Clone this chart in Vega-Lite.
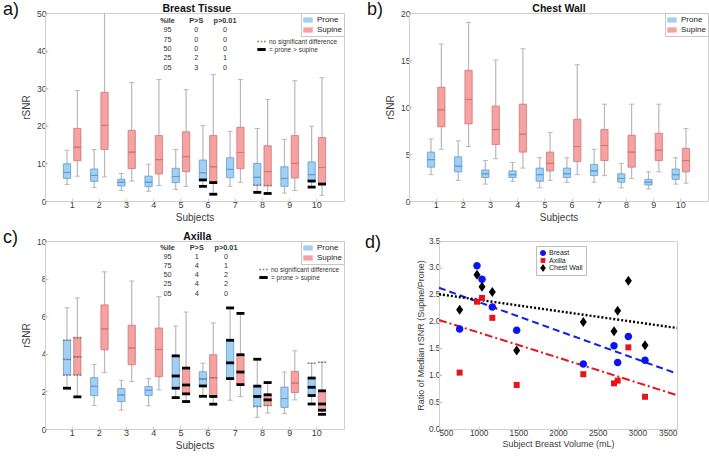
{
  "$schema": "https://vega.github.io/schema/vega-lite/v6.json",
  "background": "white",
  "padding": {"left": 2, "top": 0, "right": 0, "bottom": 0},
  "config": {
    "font": "Liberation Sans",
    "view": {"stroke": "#cfcfcf", "strokeWidth": 1},
    "axis": {
      "domainColor": "#cfcfcf", "tickColor": "#cfcfcf", "tickSize": -3,
      "labelColor": "#3c3c3c", "titleColor": "#3c3c3c",
      "labelFontSize": 8.5, "titleFontSize": 10, "titleFontWeight": "normal",
      "grid": false, "labelPadding": 2, "labelOverlap": false
    },
    "axisY": {"titlePadding": 5},
    "axisX": {"titlePadding": 3},
    "legend": {"labelFont": "Liberation Sans", "labelColor": "#222"},
    "title": {"font": "Liberation Sans", "fontSize": 18, "fontWeight": "normal", "color": "#111", "anchor": "start", "frame": "group"}
  },
  "datasets": {
    "breast": [
      {"s": 1, "pos": "Prone", "p05": 4.4, "p25": 6.0, "p50": 7.6, "p75": 9.9, "p95": 13.5},
      {"s": 1, "pos": "Supine", "p05": 6.6, "p25": 10.7, "p50": 14.3, "p75": 19.3, "p95": 29.4},
      {"s": 2, "pos": "Prone", "p05": 3.6, "p25": 5.2, "p50": 6.8, "p75": 8.5, "p95": 13.7},
      {"s": 2, "pos": "Supine", "p05": 6.4, "p25": 13.7, "p50": 20.1, "p75": 28.9, "p95": 52},
      {"s": 3, "pos": "Prone", "p05": 2.8, "p25": 4.0, "p50": 5.0, "p75": 5.8, "p95": 7.3},
      {"s": 3, "pos": "Supine", "p05": 5.3, "p25": 8.6, "p50": 13.0, "p75": 18.8, "p95": 31.5},
      {"s": 4, "pos": "Prone", "p05": 2.6, "p25": 3.8, "p50": 5.0, "p75": 6.6, "p95": 9.8},
      {"s": 4, "pos": "Supine", "p05": 4.1, "p25": 7.2, "p50": 11.0, "p75": 17.4, "p95": 32.3},
      {"s": 5, "pos": "Prone", "p05": 3.1, "p25": 4.9, "p50": 6.5, "p75": 8.7, "p95": 13.7},
      {"s": 5, "pos": "Supine", "p05": 3.9, "p25": 7.8, "p50": 11.8, "p75": 18.4, "p95": 29.6},
      {"s": 6, "pos": "Prone", "p05": 3.9, "p25": 5.6, "p50": 7.5, "p75": 10.9, "p95": 20.1},
      {"s": 6, "pos": "Supine", "p05": 1.8, "p25": 4.9, "p50": 9.1, "p75": 17.4, "p95": 33.6},
      {"s": 7, "pos": "Prone", "p05": 3.9, "p25": 6.2, "p50": 8.4, "p75": 11.5, "p95": 18.5},
      {"s": 7, "pos": "Supine", "p05": 5.0, "p25": 8.6, "p50": 12.9, "p75": 19.6, "p95": 32.3},
      {"s": 8, "pos": "Prone", "p05": 2.3, "p25": 4.2, "p50": 6.3, "p75": 10.0, "p95": 19.3},
      {"s": 8, "pos": "Supine", "p05": 2.0, "p25": 4.1, "p50": 7.8, "p75": 14.7, "p95": 27.0},
      {"s": 9, "pos": "Prone", "p05": 2.1, "p25": 3.9, "p50": 6.0, "p75": 9.1, "p95": 16.4},
      {"s": 9, "pos": "Supine", "p05": 2.8, "p25": 6.1, "p50": 10.0, "p75": 17.4, "p95": 32.0},
      {"s": 10, "pos": "Prone", "p05": 3.7, "p25": 5.3, "p50": 7.0, "p75": 10.4, "p95": 19.9},
      {"s": 10, "pos": "Supine", "p05": 1.5, "p25": 4.5, "p50": 8.9, "p75": 16.9, "p95": 32.8}
    ],
    "breastMarks": [
      {"s": 6, "pos": "Prone", "v": 5.6, "kind": "= prone > supine"},
      {"s": 6, "pos": "Prone", "v": 3.9, "kind": "= prone > supine"},
      {"s": 6, "pos": "Supine", "v": 4.9, "kind": "= prone > supine"},
      {"s": 6, "pos": "Supine", "v": 1.8, "kind": "= prone > supine"},
      {"s": 8, "pos": "Prone", "v": 2.3, "kind": "= prone > supine"},
      {"s": 8, "pos": "Supine", "v": 2.0, "kind": "= prone > supine"},
      {"s": 10, "pos": "Prone", "v": 5.3, "kind": "= prone > supine"},
      {"s": 10, "pos": "Prone", "v": 3.7, "kind": "= prone > supine"},
      {"s": 10, "pos": "Supine", "v": 4.5, "kind": "= prone > supine"},
      {"s": 8, "pos": "Prone", "v": 4.2, "kind": "no significant difference"},
      {"s": 8, "pos": "Supine", "v": 4.1, "kind": "no significant difference"}
    ],
    "breastTable": [
      {"pct": "%ile", "col": "%ile", "t": "%ile"}, {"pct": "%ile", "col": "P>S", "t": "P>S"}, {"pct": "%ile", "col": "p>0.01", "t": "p>0.01"},
      {"pct": "95", "col": "%ile", "t": "95"}, {"pct": "95", "col": "P>S", "t": "0"}, {"pct": "95", "col": "p>0.01", "t": "0"},
      {"pct": "75", "col": "%ile", "t": "75"}, {"pct": "75", "col": "P>S", "t": "0"}, {"pct": "75", "col": "p>0.01", "t": "0"},
      {"pct": "50", "col": "%ile", "t": "50"}, {"pct": "50", "col": "P>S", "t": "0"}, {"pct": "50", "col": "p>0.01", "t": "0"},
      {"pct": "25", "col": "%ile", "t": "25"}, {"pct": "25", "col": "P>S", "t": "2"}, {"pct": "25", "col": "p>0.01", "t": "1"},
      {"pct": "05", "col": "%ile", "t": "05"}, {"pct": "05", "col": "P>S", "t": "3"}, {"pct": "05", "col": "p>0.01", "t": "0"}
    ],
    "chest": [
      {"s": 1, "pos": "Prone", "p05": 2.8, "p25": 3.6, "p50": 4.4, "p75": 5.2, "p95": 6.6},
      {"s": 1, "pos": "Supine", "p05": 5.5, "p25": 7.9, "p50": 9.7, "p75": 12.1, "p95": 16.7},
      {"s": 2, "pos": "Prone", "p05": 2.2, "p25": 3.1, "p50": 3.7, "p75": 4.7, "p95": 6.4},
      {"s": 2, "pos": "Supine", "p05": 5.8, "p25": 8.2, "p50": 10.8, "p75": 13.9, "p95": 19.0},
      {"s": 3, "pos": "Prone", "p05": 1.8, "p25": 2.5, "p50": 2.9, "p75": 3.3, "p95": 4.3},
      {"s": 3, "pos": "Supine", "p05": 4.5, "p25": 6.0, "p50": 7.6, "p75": 10.1, "p95": 15.0},
      {"s": 4, "pos": "Prone", "p05": 2.1, "p25": 2.5, "p50": 2.8, "p75": 3.2, "p95": 4.1},
      {"s": 4, "pos": "Supine", "p05": 3.5, "p25": 5.2, "p50": 7.1, "p75": 10.3, "p95": 16.2},
      {"s": 5, "pos": "Prone", "p05": 1.4, "p25": 2.1, "p50": 2.8, "p75": 3.5, "p95": 4.6},
      {"s": 5, "pos": "Supine", "p05": 2.2, "p25": 3.2, "p50": 4.0, "p75": 5.2, "p95": 7.3},
      {"s": 6, "pos": "Prone", "p05": 2.0, "p25": 2.5, "p50": 2.9, "p75": 3.5, "p95": 4.6},
      {"s": 6, "pos": "Supine", "p05": 2.8, "p25": 4.2, "p50": 5.8, "p75": 8.7, "p95": 14.5},
      {"s": 7, "pos": "Prone", "p05": 2.0, "p25": 2.7, "p50": 3.2, "p75": 3.9, "p95": 5.5},
      {"s": 7, "pos": "Supine", "p05": 2.7, "p25": 4.3, "p50": 5.9, "p75": 7.6, "p95": 10.3},
      {"s": 8, "pos": "Prone", "p05": 1.4, "p25": 2.0, "p50": 2.4, "p75": 2.9, "p95": 4.0},
      {"s": 8, "pos": "Supine", "p05": 2.4, "p25": 3.6, "p50": 5.2, "p75": 7.0, "p95": 10.3},
      {"s": 9, "pos": "Prone", "p05": 1.3, "p25": 1.7, "p50": 2.0, "p75": 2.3, "p95": 3.1},
      {"s": 9, "pos": "Supine", "p05": 3.1, "p25": 4.3, "p50": 5.4, "p75": 7.2, "p95": 10.3},
      {"s": 10, "pos": "Prone", "p05": 1.8, "p25": 2.3, "p50": 2.8, "p75": 3.4, "p95": 4.6},
      {"s": 10, "pos": "Supine", "p05": 1.9, "p25": 3.1, "p50": 4.3, "p75": 5.6, "p95": 7.7}
    ],
    "axilla": [
      {"s": 1, "pos": "Prone", "p05": 2.17, "p25": 2.87, "p50": 3.7, "p75": 4.72, "p95": 6.45},
      {"s": 1, "pos": "Supine", "p05": 1.71, "p25": 2.87, "p50": 3.84, "p75": 4.86, "p95": 6.97},
      {"s": 2, "pos": "Prone", "p05": 1.25, "p25": 1.78, "p50": 2.27, "p75": 2.73, "p95": 3.43},
      {"s": 2, "pos": "Supine", "p05": 3.01, "p25": 4.21, "p50": 5.32, "p75": 6.6, "p95": 8.36},
      {"s": 3, "pos": "Prone", "p05": 1.0, "p25": 1.46, "p50": 1.81, "p75": 2.15, "p95": 2.59},
      {"s": 3, "pos": "Supine", "p05": 2.53, "p25": 3.42, "p50": 4.31, "p75": 5.52, "p95": 7.87},
      {"s": 4, "pos": "Prone", "p05": 1.23, "p25": 1.78, "p50": 2.06, "p75": 2.26, "p95": 2.68},
      {"s": 4, "pos": "Supine", "p05": 2.08, "p25": 2.78, "p50": 4.23, "p75": 5.37, "p95": 7.04},
      {"s": 5, "pos": "Prone", "p05": 1.67, "p25": 2.17, "p50": 2.82, "p75": 3.89, "p95": 5.48},
      {"s": 5, "pos": "Supine", "p05": 1.46, "p25": 1.87, "p50": 2.34, "p75": 3.24, "p95": 6.22},
      {"s": 6, "pos": "Prone", "p05": 1.74, "p25": 2.29, "p50": 2.66, "p75": 3.05, "p95": 3.5},
      {"s": 6, "pos": "Supine", "p05": 1.32, "p25": 1.73, "p50": 2.73, "p75": 3.95, "p95": 5.64},
      {"s": 7, "pos": "Prone", "p05": 1.53, "p25": 2.68, "p50": 3.52, "p75": 4.72, "p95": 6.44},
      {"s": 7, "pos": "Supine", "p05": 1.73, "p25": 2.36, "p50": 3.03, "p75": 3.95, "p95": 6.15},
      {"s": 8, "pos": "Prone", "p05": 0.62, "p25": 1.2, "p50": 1.73, "p75": 2.28, "p95": 3.71},
      {"s": 8, "pos": "Supine", "p05": 0.85, "p25": 1.25, "p50": 1.55, "p75": 1.82, "p95": 2.47},
      {"s": 9, "pos": "Prone", "p05": 0.82, "p25": 1.15, "p50": 1.62, "p75": 2.23, "p95": 3.03},
      {"s": 9, "pos": "Supine", "p05": 1.55, "p25": 1.94, "p50": 2.44, "p75": 3.06, "p95": 4.16},
      {"s": 10, "pos": "Prone", "p05": 1.33, "p25": 1.78, "p50": 2.22, "p75": 2.71, "p95": 3.5},
      {"s": 10, "pos": "Supine", "p05": 0.78, "p25": 1.0, "p50": 1.33, "p75": 2.03, "p95": 3.55}
    ],
    "axillaMarks": [
      {"s": 1, "pos": "Prone", "v": 2.17, "kind": "= prone > supine"},
      {"s": 1, "pos": "Supine", "v": 1.71, "kind": "= prone > supine"},
      {"s": 5, "pos": "Prone", "v": 3.89, "kind": "= prone > supine"},
      {"s": 5, "pos": "Prone", "v": 2.82, "kind": "= prone > supine"},
      {"s": 5, "pos": "Prone", "v": 2.17, "kind": "= prone > supine"},
      {"s": 5, "pos": "Prone", "v": 1.67, "kind": "= prone > supine"},
      {"s": 5, "pos": "Supine", "v": 3.24, "kind": "= prone > supine"},
      {"s": 5, "pos": "Supine", "v": 2.34, "kind": "= prone > supine"},
      {"s": 5, "pos": "Supine", "v": 1.87, "kind": "= prone > supine"},
      {"s": 5, "pos": "Supine", "v": 1.46, "kind": "= prone > supine"},
      {"s": 6, "pos": "Prone", "v": 2.29, "kind": "= prone > supine"},
      {"s": 6, "pos": "Prone", "v": 1.74, "kind": "= prone > supine"},
      {"s": 6, "pos": "Supine", "v": 1.73, "kind": "= prone > supine"},
      {"s": 6, "pos": "Supine", "v": 1.32, "kind": "= prone > supine"},
      {"s": 7, "pos": "Prone", "v": 6.44, "kind": "= prone > supine"},
      {"s": 7, "pos": "Prone", "v": 4.72, "kind": "= prone > supine"},
      {"s": 7, "pos": "Prone", "v": 3.52, "kind": "= prone > supine"},
      {"s": 7, "pos": "Prone", "v": 2.68, "kind": "= prone > supine"},
      {"s": 7, "pos": "Supine", "v": 6.15, "kind": "= prone > supine"},
      {"s": 7, "pos": "Supine", "v": 3.95, "kind": "= prone > supine"},
      {"s": 7, "pos": "Supine", "v": 3.03, "kind": "= prone > supine"},
      {"s": 7, "pos": "Supine", "v": 2.36, "kind": "= prone > supine"},
      {"s": 8, "pos": "Prone", "v": 3.71, "kind": "= prone > supine"},
      {"s": 8, "pos": "Prone", "v": 2.28, "kind": "= prone > supine"},
      {"s": 8, "pos": "Prone", "v": 1.73, "kind": "= prone > supine"},
      {"s": 8, "pos": "Supine", "v": 2.47, "kind": "= prone > supine"},
      {"s": 8, "pos": "Supine", "v": 1.82, "kind": "= prone > supine"},
      {"s": 8, "pos": "Supine", "v": 1.55, "kind": "= prone > supine"},
      {"s": 10, "pos": "Prone", "v": 2.71, "kind": "= prone > supine"},
      {"s": 10, "pos": "Prone", "v": 2.22, "kind": "= prone > supine"},
      {"s": 10, "pos": "Prone", "v": 1.78, "kind": "= prone > supine"},
      {"s": 10, "pos": "Prone", "v": 1.33, "kind": "= prone > supine"},
      {"s": 10, "pos": "Supine", "v": 2.03, "kind": "= prone > supine"},
      {"s": 10, "pos": "Supine", "v": 1.33, "kind": "= prone > supine"},
      {"s": 10, "pos": "Supine", "v": 1.0, "kind": "= prone > supine"},
      {"s": 10, "pos": "Supine", "v": 0.78, "kind": "= prone > supine"},
      {"s": 1, "pos": "Prone", "v": 4.72, "kind": "no significant difference"},
      {"s": 1, "pos": "Prone", "v": 3.7, "kind": "no significant difference"},
      {"s": 1, "pos": "Prone", "v": 2.87, "kind": "no significant difference"},
      {"s": 1, "pos": "Supine", "v": 4.86, "kind": "no significant difference"},
      {"s": 1, "pos": "Supine", "v": 3.84, "kind": "no significant difference"},
      {"s": 1, "pos": "Supine", "v": 2.87, "kind": "no significant difference"},
      {"s": 6, "pos": "Prone", "v": 2.66, "kind": "no significant difference"},
      {"s": 6, "pos": "Supine", "v": 2.73, "kind": "no significant difference"},
      {"s": 8, "pos": "Prone", "v": 1.2, "kind": "no significant difference"},
      {"s": 8, "pos": "Supine", "v": 1.25, "kind": "no significant difference"},
      {"s": 10, "pos": "Prone", "v": 3.5, "kind": "no significant difference"},
      {"s": 10, "pos": "Supine", "v": 3.55, "kind": "no significant difference"}
    ],
    "axillaTable": [
      {"pct": "%ile", "col": "%ile", "t": "%ile"}, {"pct": "%ile", "col": "P>S", "t": "P>S"}, {"pct": "%ile", "col": "p>0.01", "t": "p>0.01"},
      {"pct": "95", "col": "%ile", "t": "95"}, {"pct": "95", "col": "P>S", "t": "1"}, {"pct": "95", "col": "p>0.01", "t": "0"},
      {"pct": "75", "col": "%ile", "t": "75"}, {"pct": "75", "col": "P>S", "t": "4"}, {"pct": "75", "col": "p>0.01", "t": "1"},
      {"pct": "50", "col": "%ile", "t": "50"}, {"pct": "50", "col": "P>S", "t": "4"}, {"pct": "50", "col": "p>0.01", "t": "2"},
      {"pct": "25", "col": "%ile", "t": "25"}, {"pct": "25", "col": "P>S", "t": "4"}, {"pct": "25", "col": "p>0.01", "t": "2"},
      {"pct": "05", "col": "%ile", "t": "05"}, {"pct": "05", "col": "P>S", "t": "4"}, {"pct": "05", "col": "p>0.01", "t": "0"}
    ],
    "ratios": [
      {"series": "Breast", "vol": 760, "ratio": 1.86}, {"series": "Breast", "vol": 979, "ratio": 3.04},
      {"series": "Breast", "vol": 1042, "ratio": 2.79}, {"series": "Breast", "vol": 1172, "ratio": 2.27},
      {"series": "Breast", "vol": 1479, "ratio": 1.84}, {"series": "Breast", "vol": 2319, "ratio": 1.21},
      {"series": "Breast", "vol": 2706, "ratio": 1.55}, {"series": "Breast", "vol": 2752, "ratio": 1.24},
      {"series": "Breast", "vol": 2887, "ratio": 1.72}, {"series": "Breast", "vol": 3097, "ratio": 1.28},
      {"series": "Axilla", "vol": 760, "ratio": 1.05}, {"series": "Axilla", "vol": 979, "ratio": 2.37},
      {"series": "Axilla", "vol": 1042, "ratio": 2.44}, {"series": "Axilla", "vol": 1172, "ratio": 2.07},
      {"series": "Axilla", "vol": 1479, "ratio": 0.82}, {"series": "Axilla", "vol": 2319, "ratio": 1.02},
      {"series": "Axilla", "vol": 2706, "ratio": 0.85}, {"series": "Axilla", "vol": 2752, "ratio": 0.9},
      {"series": "Axilla", "vol": 2887, "ratio": 1.52}, {"series": "Axilla", "vol": 3097, "ratio": 0.6},
      {"series": "Chest Wall", "vol": 760, "ratio": 2.22}, {"series": "Chest Wall", "vol": 979, "ratio": 2.87},
      {"series": "Chest Wall", "vol": 1042, "ratio": 2.65}, {"series": "Chest Wall", "vol": 1172, "ratio": 2.55},
      {"series": "Chest Wall", "vol": 1479, "ratio": 1.46}, {"series": "Chest Wall", "vol": 2319, "ratio": 1.99},
      {"series": "Chest Wall", "vol": 2706, "ratio": 1.82}, {"series": "Chest Wall", "vol": 2752, "ratio": 2.2},
      {"series": "Chest Wall", "vol": 2887, "ratio": 2.76}, {"series": "Chest Wall", "vol": 3097, "ratio": 1.56}
    ],
    "fits": [
      {"series": "Breast", "vol": 500, "ratio": 2.63}, {"series": "Breast", "vol": 3500, "ratio": 1.03},
      {"series": "Axilla", "vol": 500, "ratio": 2.03}, {"series": "Axilla", "vol": 3500, "ratio": 0.63},
      {"series": "Chest Wall", "vol": 500, "ratio": 2.51}, {"series": "Chest Wall", "vol": 3500, "ratio": 1.88}
    ]
  },
  "spacing": 5,
  "resolve": {
    "scale": {"color": "independent", "fill": "independent", "stroke": "independent", "shape": "independent"},
    "legend": {"color": "independent", "fill": "independent", "stroke": "independent", "shape": "independent"}
  },
  "vconcat": [
    {
      "hconcat": [
        {
          "width": 299, "height": 188,
          "title": {"text": "a)", "dx": -42, "dy": 20},
          "layer": [
            {
              "layer": [
                {
                  "data": {"name": "breast"},
                  "encoding": {
                    "x": {"field": "s", "type": "ordinal", "title": "Subjects", "scale": {"domain": [1, 2, 3, 4, 5, 6, 7, 8, 9, 10], "paddingInner": 0.2, "paddingOuter": 0.6}, "axis": {"labelAngle": 0, "labelFontSize": 9}},
                    "xOffset": {"field": "pos", "type": "nominal", "scale": {"domain": ["Prone", "Supine"], "paddingInner": 0.3, "paddingOuter": 0.2}},
                    "y": {"field": "p05", "type": "quantitative", "title": "rSNR", "scale": {"domain": [0, 50]}, "axis": {"values": [0, 10, 20, 30, 40, 50]}}
                  },
                  "layer": [
                    {"mark": {"type": "rule", "color": "#b8b8b8", "strokeWidth": 1.2, "clip": true}, "encoding": {"y2": {"field": "p95"}}},
                    {"mark": {"type": "tick", "color": "#b8b8b8", "size": 5, "thickness": 1, "opacity": 1, "clip": true}, "encoding": {"y": {"field": "p95", "type": "quantitative"}}},
                    {"mark": {"type": "tick", "color": "#b8b8b8", "size": 5, "thickness": 1, "opacity": 1}},
                    {
                      "mark": {"type": "bar", "strokeWidth": 0.8},
                      "encoding": {
                        "y": {"field": "p25", "type": "quantitative"},
                        "y2": {"field": "p75"},
                        "fill": {"field": "pos", "type": "nominal", "scale": {"domain": ["Prone", "Supine"], "range": ["#a3cff3", "#f6a2a2"]},
                          "legend": {"title": null, "orient": "top-right", "offset": 0, "strokeColor": "#c8c8c8", "fillColor": "white", "padding": 2, "symbolType": "M-1,-0.55H1V0.55H-1Z", "symbolSize": 90, "labelFontSize": 8, "rowPadding": 1, "symbolStrokeWidth": 0}},
                        "stroke": {"field": "pos", "type": "nominal", "scale": {"domain": ["Prone", "Supine"], "range": ["#5f9dd0", "#cf7676"]}, "legend": null}
                      }
                    },
                    {
                      "mark": {"type": "tick", "filled": false, "thickness": 0.01, "strokeWidth": 1, "opacity": 1},
                      "encoding": {
                        "y": {"field": "p50", "type": "quantitative"},
                        "stroke": {"field": "pos", "type": "nominal", "legend": null}
                      }
                    }
                  ]
                },
                {
                  "data": {"name": "breastMarks"},
                  "mark": {"type": "point", "filled": true, "size": 64, "opacity": 1, "strokeWidth": 0},
                  "encoding": {
                    "x": {"field": "s", "type": "ordinal", "title": "Subjects", "scale": {"domain": [1, 2, 3, 4, 5, 6, 7, 8, 9, 10]}},
                    "xOffset": {"field": "pos", "type": "nominal", "scale": {"domain": ["Prone", "Supine"]}},
                    "y": {"field": "v", "type": "quantitative", "title": "rSNR", "scale": {"domain": [0, 50]}, "axis": {"values": [0, 10, 20, 30, 40, 50]}},
                    "color": {"field": "kind", "type": "nominal", "scale": {"domain": ["no significant difference", "= prone > supine"], "range": ["#7a7a7a", "#000000"]},
                      "legend": {"title": null, "orient": "none", "legendX": 212, "legendY": 24, "padding": 0, "symbolSize": 70, "labelFontSize": 6.5, "labelColor": "#333", "rowPadding": 0, "symbolStrokeWidth": 0, "labelOffset": 3}},
                    "shape": {"field": "kind", "type": "nominal", "scale": {"domain": ["no significant difference", "= prone > supine"], "range": ["M-1,-0.2H-0.6V0.2H-1Z M-0.2,-0.2H0.2V0.2H-0.2Z M0.6,-0.2H1V0.2H0.6Z", "M-1,-0.35H1V0.35H-1Z"]},
                      "legend": {"title": null, "orient": "none", "legendX": 212, "legendY": 24, "padding": 0, "symbolSize": 70, "labelFontSize": 6.5, "labelColor": "#333", "rowPadding": 0, "symbolStrokeWidth": 0, "labelOffset": 3}}
                  }
                }
              ]
            },
            {
              "data": {"name": "breastTable"},
              "encoding": {
                "x": {"field": "col", "type": "nominal", "scale": {"type": "point", "domain": ["%ile", "P>S", "p>0.01"], "range": [122.5, 180], "padding": 0},
                  "axis": {"orient": "top", "title": "Breast Tissue", "labels": false, "ticks": false, "domain": false, "titleFontWeight": "bold", "titleFontSize": 10.5, "titleColor": "#111", "titlePadding": 0}},
                "y": {"field": "pct", "type": "nominal", "scale": {"type": "point", "domain": ["%ile", "95", "75", "50", "25", "05"], "range": [8, 54.5], "padding": 0}, "axis": null},
                "text": {"field": "t"}
              },
              "layer": [
                {"transform": [{"filter": "datum.pct === '%ile'"}], "mark": {"type": "text", "fontSize": 7.3, "fontWeight": "bold", "color": "#333"}},
                {"transform": [{"filter": "datum.pct !== '%ile'"}], "mark": {"type": "text", "fontSize": 7.3, "color": "#333"}}
              ]
            }
          ],
          "resolve": {"scale": {"x": "independent", "y": "independent"}}
        },
        {
          "width": 299, "height": 188,
          "title": {"text": "b)", "dx": -42, "dy": 20},
          "layer": [
            {
              "data": {"name": "chest"},
              "encoding": {
                "x": {"field": "s", "type": "ordinal", "title": "Subjects", "scale": {"domain": [1, 2, 3, 4, 5, 6, 7, 8, 9, 10], "paddingInner": 0.2, "paddingOuter": 0.6}, "axis": {"labelAngle": 0, "labelFontSize": 9}},
                "xOffset": {"field": "pos", "type": "nominal", "scale": {"domain": ["Prone", "Supine"], "paddingInner": 0.3, "paddingOuter": 0.2}},
                "y": {"field": "p05", "type": "quantitative", "title": "rSNR", "scale": {"domain": [0, 20]}, "axis": {"values": [0, 5, 10, 15, 20]}}
              },
              "layer": [
                {"mark": {"type": "rule", "color": "#b8b8b8", "strokeWidth": 1.2}, "encoding": {"y2": {"field": "p95"}}},
                {"mark": {"type": "tick", "color": "#b8b8b8", "size": 5, "thickness": 1, "opacity": 1}, "encoding": {"y": {"field": "p95", "type": "quantitative"}}},
                {"mark": {"type": "tick", "color": "#b8b8b8", "size": 5, "thickness": 1, "opacity": 1}},
                {
                  "mark": {"type": "bar", "strokeWidth": 0.8},
                  "encoding": {
                    "y": {"field": "p25", "type": "quantitative"},
                    "y2": {"field": "p75"},
                    "fill": {"field": "pos", "type": "nominal", "scale": {"domain": ["Prone", "Supine"], "range": ["#a3cff3", "#f6a2a2"]},
                      "legend": {"title": null, "orient": "top-right", "offset": 0, "strokeColor": "#c8c8c8", "fillColor": "white", "padding": 2, "symbolType": "M-1,-0.55H1V0.55H-1Z", "symbolSize": 90, "labelFontSize": 8, "rowPadding": 1, "symbolStrokeWidth": 0}},
                    "stroke": {"field": "pos", "type": "nominal", "scale": {"domain": ["Prone", "Supine"], "range": ["#5f9dd0", "#cf7676"]}, "legend": null}
                  }
                },
                {
                  "mark": {"type": "tick", "filled": false, "thickness": 0.01, "strokeWidth": 1, "opacity": 1},
                  "encoding": {
                    "y": {"field": "p50", "type": "quantitative"},
                    "stroke": {"field": "pos", "type": "nominal", "legend": null}
                  }
                }
              ]
            },
            {
              "data": {"values": []},
              "mark": "text",
              "encoding": {
                "x": {"field": "col", "type": "nominal", "scale": {"type": "point", "domain": ["name"]},
                  "axis": {"orient": "top", "title": "Chest Wall", "labels": false, "ticks": false, "domain": false, "titleFontWeight": "bold", "titleFontSize": 10.5, "titleColor": "#111", "titlePadding": 0}}
              }
            }
          ],
          "resolve": {"scale": {"x": "independent"}}
        }
      ],
      "spacing": 65,
      "bounds": "flush",
      "resolve": {
        "scale": {"color": "independent", "fill": "independent", "stroke": "independent", "shape": "independent"},
        "legend": {"color": "independent", "fill": "independent", "stroke": "independent", "shape": "independent"}
      }
    },
    {
      "hconcat": [
        {
          "width": 299, "height": 188,
          "title": {"text": "c)", "dx": -42, "dy": 20},
          "layer": [
            {
              "layer": [
                {
                  "data": {"name": "axilla"},
                  "encoding": {
                    "x": {"field": "s", "type": "ordinal", "title": "Subjects", "scale": {"domain": [1, 2, 3, 4, 5, 6, 7, 8, 9, 10], "paddingInner": 0.2, "paddingOuter": 0.6}, "axis": {"labelAngle": 0, "labelFontSize": 9}},
                    "xOffset": {"field": "pos", "type": "nominal", "scale": {"domain": ["Prone", "Supine"], "paddingInner": 0.3, "paddingOuter": 0.2}},
                    "y": {"field": "p05", "type": "quantitative", "title": "rSNR", "scale": {"domain": [0, 10]}, "axis": {"values": [0, 2, 4, 6, 8, 10]}}
                  },
                  "layer": [
                    {"mark": {"type": "rule", "color": "#b8b8b8", "strokeWidth": 1.2}, "encoding": {"y2": {"field": "p95"}}},
                    {"mark": {"type": "tick", "color": "#b8b8b8", "size": 5, "thickness": 1, "opacity": 1}, "encoding": {"y": {"field": "p95", "type": "quantitative"}}},
                    {"mark": {"type": "tick", "color": "#b8b8b8", "size": 5, "thickness": 1, "opacity": 1}},
                    {
                      "mark": {"type": "bar", "strokeWidth": 0.8},
                      "encoding": {
                        "y": {"field": "p25", "type": "quantitative"},
                        "y2": {"field": "p75"},
                        "fill": {"field": "pos", "type": "nominal", "scale": {"domain": ["Prone", "Supine"], "range": ["#a3cff3", "#f6a2a2"]},
                          "legend": {"title": null, "orient": "top-right", "offset": 0, "strokeColor": "#c8c8c8", "fillColor": "white", "padding": 2, "symbolType": "M-1,-0.55H1V0.55H-1Z", "symbolSize": 90, "labelFontSize": 8, "rowPadding": 1, "symbolStrokeWidth": 0}},
                        "stroke": {"field": "pos", "type": "nominal", "scale": {"domain": ["Prone", "Supine"], "range": ["#5f9dd0", "#cf7676"]}, "legend": null}
                      }
                    },
                    {
                      "mark": {"type": "tick", "filled": false, "thickness": 0.01, "strokeWidth": 1, "opacity": 1},
                      "encoding": {
                        "y": {"field": "p50", "type": "quantitative"},
                        "stroke": {"field": "pos", "type": "nominal", "legend": null}
                      }
                    }
                  ]
                },
                {
                  "data": {"name": "axillaMarks"},
                  "mark": {"type": "point", "filled": true, "size": 64, "opacity": 1, "strokeWidth": 0},
                  "encoding": {
                    "x": {"field": "s", "type": "ordinal", "title": "Subjects", "scale": {"domain": [1, 2, 3, 4, 5, 6, 7, 8, 9, 10]}},
                    "xOffset": {"field": "pos", "type": "nominal", "scale": {"domain": ["Prone", "Supine"]}},
                    "y": {"field": "v", "type": "quantitative", "title": "rSNR", "scale": {"domain": [0, 10]}, "axis": {"values": [0, 2, 4, 6, 8, 10]}},
                    "color": {"field": "kind", "type": "nominal", "scale": {"domain": ["no significant difference", "= prone > supine"], "range": ["#7a7a7a", "#000000"]},
                      "legend": {"title": null, "orient": "none", "legendX": 214, "legendY": 24, "padding": 0, "symbolSize": 70, "labelFontSize": 6.5, "labelColor": "#333", "rowPadding": 0, "symbolStrokeWidth": 0, "labelOffset": 3}},
                    "shape": {"field": "kind", "type": "nominal", "scale": {"domain": ["no significant difference", "= prone > supine"], "range": ["M-1,-0.2H-0.6V0.2H-1Z M-0.2,-0.2H0.2V0.2H-0.2Z M0.6,-0.2H1V0.2H0.6Z", "M-1,-0.35H1V0.35H-1Z"]},
                      "legend": {"title": null, "orient": "none", "legendX": 214, "legendY": 24, "padding": 0, "symbolSize": 70, "labelFontSize": 6.5, "labelColor": "#333", "rowPadding": 0, "symbolStrokeWidth": 0, "labelOffset": 3}}
                  }
                }
              ]
            },
            {
              "data": {"name": "axillaTable"},
              "encoding": {
                "x": {"field": "col", "type": "nominal", "scale": {"type": "point", "domain": ["%ile", "P>S", "p>0.01"], "range": [122.5, 181], "padding": 0},
                  "axis": {"orient": "top", "title": "Axilla", "labels": false, "ticks": false, "domain": false, "titleFontWeight": "bold", "titleFontSize": 10.5, "titleColor": "#111", "titlePadding": 0}},
                "y": {"field": "pct", "type": "nominal", "scale": {"type": "point", "domain": ["%ile", "95", "75", "50", "25", "05"], "range": [7, 52.5], "padding": 0}, "axis": null},
                "text": {"field": "t"}
              },
              "layer": [
                {"transform": [{"filter": "datum.pct === '%ile'"}], "mark": {"type": "text", "fontSize": 7.3, "fontWeight": "bold", "color": "#333"}},
                {"transform": [{"filter": "datum.pct !== '%ile'"}], "mark": {"type": "text", "fontSize": 7.3, "color": "#333"}}
              ]
            }
          ],
          "resolve": {"scale": {"x": "independent", "y": "independent"}}
        },
        {
          "width": 238, "height": 188,
          "title": {"text": "d)", "dx": -74, "dy": 20},
          "encoding": {
            "x": {"field": "vol", "type": "quantitative", "title": "Subject Breast Volume (mL)", "scale": {"domain": [500, 3500]}, "axis": {"values": [500, 1000, 1500, 2000, 2500, 3000, 3500], "format": "d", "titleFontSize": 9, "labelFontSize": 8.3}},
            "y": {"field": "ratio", "type": "quantitative", "title": "Ratio of Median rSNR (Supine/Prone)", "scale": {"domain": [0, 3.5]}, "axis": {"values": [0, 0.5, 1, 1.5, 2, 2.5, 3, 3.5], "titleFontSize": 9, "labelFontSize": 8.3, "titlePadding": 3}}
          },
          "layer": [
            {"mark": {"type": "rule", "color": "#555555", "strokeWidth": 2}, "encoding": {"y": {"datum": 1}, "x": null}},
            {
              "data": {"name": "fits"},
              "transform": [{"filter": "datum.series === 'Breast'"}],
              "mark": {"type": "line", "color": "#1020e8", "strokeWidth": 2, "strokeDash": [7, 4]}
            },
            {
              "data": {"name": "fits"},
              "transform": [{"filter": "datum.series === 'Axilla'"}],
              "mark": {"type": "line", "color": "#e8141c", "strokeWidth": 2, "strokeDash": [8, 3, 2, 3]}
            },
            {
              "data": {"name": "fits"},
              "transform": [{"filter": "datum.series === 'Chest Wall'"}],
              "mark": {"type": "line", "color": "#000000", "strokeWidth": 2.4, "strokeDash": [2, 2]}
            },
            {
              "data": {"name": "ratios"},
              "mark": {"type": "point", "filled": true, "opacity": 1, "strokeWidth": 0, "size": 100},
              "encoding": {
                "color": {"field": "series", "type": "nominal", "scale": {"domain": ["Breast", "Axilla", "Chest Wall"], "range": ["#0a14f0", "#e8141c", "#000000"]},
                  "legend": {"title": null, "orient": "none", "legendX": 97, "legendY": 5, "strokeColor": "#bdbdbd", "fillColor": "white", "padding": 3, "labelFontSize": 7, "rowPadding": 0.5, "symbolSize": 64, "symbolStrokeWidth": 0, "labelOffset": 2}},
                "shape": {"field": "series", "type": "nominal", "scale": {"domain": ["Breast", "Axilla", "Chest Wall"], "range": ["M-0.75,0A0.75,0.75 0 1,1 0.75,0A0.75,0.75 0 1,1 -0.75,0Z", "M-0.6,-0.6H0.6V0.6H-0.6Z", "M0,-1L0.7,0L0,1L-0.7,0Z"]},
                  "legend": {"title": null, "orient": "none", "legendX": 97, "legendY": 5, "strokeColor": "#bdbdbd", "fillColor": "white", "padding": 3, "labelFontSize": 7, "rowPadding": 0.5, "symbolSize": 64, "symbolStrokeWidth": 0, "labelOffset": 2}}
              }
            }
          ]
        }
      ],
      "spacing": 95,
      "bounds": "flush",
      "resolve": {
        "scale": {"color": "independent", "fill": "independent", "stroke": "independent", "shape": "independent"},
        "legend": {"color": "independent", "fill": "independent", "stroke": "independent", "shape": "independent"}
      }
    }
  ]
}
